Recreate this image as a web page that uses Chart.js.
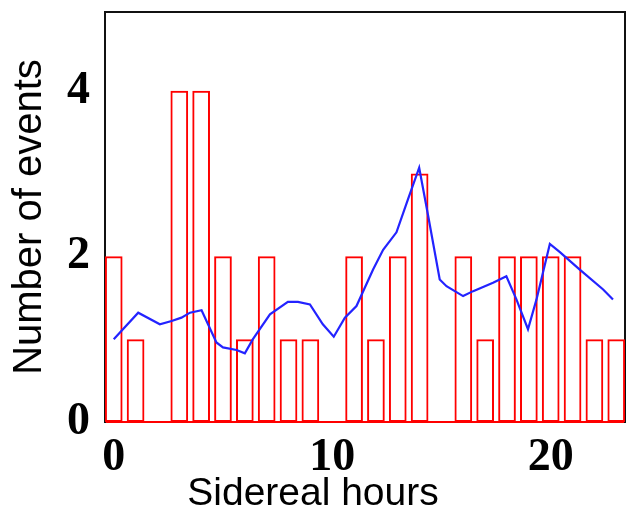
<!DOCTYPE html>
<html lang="en">
<head>
    <meta charset="UTF-8">
    <title>Sidereal hours histogram</title>
    <script src="https://cdn.jsdelivr.net/npm/chart.js"></script>
    <style>
        body {
            margin: 0;
            padding: 0;
            background-color: #ffffff;
        }
        #chartBox {
            width: 626px;
            height: 518px;
        }
    </style>
</head>
<body>
    <div id="chartBox">
        <canvas id="siderealChart" width="626" height="518"></canvas>
    </div>

    <script>
        // Histogram: events per sidereal hour bin
        const hours = [0, 1, 2, 3, 4, 5, 6, 7, 8, 9, 10, 11, 12, 13, 14, 15, 16, 17, 18, 19, 20, 21, 22, 23];
        const eventCounts = [2, 1, 0, 4, 4, 2, 1, 2, 1, 1, 0, 2, 1, 2, 3, 0, 2, 1, 2, 2, 2, 2, 1, 1];

        // Smooth blue curve
        const curveHours = [0.0, 1.12, 2.11, 2.65, 3.1, 3.49, 4.02, 4.7, 5.0, 5.62, 6.0, 6.37, 7.15, 7.97,
            8.43, 8.98, 9.57, 10.07, 10.58, 11.11, 11.87, 12.33, 12.94, 13.47, 13.98, 14.39, 14.92, 15.23,
            15.99, 16.45, 17.36, 17.97, 18.43, 18.96, 19.35, 19.96, 20.42, 21.33, 22.4, 22.85];
        const curveEvents = [1.0, 1.32, 1.18, 1.22, 1.26, 1.32, 1.35, 0.96, 0.9, 0.87, 0.83, 1.0, 1.30, 1.45,
            1.45, 1.42, 1.18, 1.03, 1.26, 1.40, 1.84, 2.08, 2.29, 2.69, 3.07, 2.49, 1.72, 1.64,
            1.52, 1.58, 1.68, 1.76, 1.48, 1.12, 1.48, 2.15, 2.05, 1.84, 1.6, 1.48];

        const xTickValues = [0, 10, 20];
        const yTickValues = [0, 2, 4];

        const xMin = -0.4, xMax = 23.4;
        const yMin = 0, yMax = 4.95;

        const tickFont = { family: "'Liberation Serif', 'Times New Roman', serif", size: 46, weight: 'bold' };
        const titleFamily = "'Liberation Sans', Arial, sans-serif";

        // no label overflow padding, the frame sits where the picture has it
        function noPadding(scale) {
            scale.paddingTop = 0;
            scale.paddingBottom = 0;
            scale.paddingLeft = 0;
            scale.paddingRight = 0;
        }

        const ctx = document.getElementById('siderealChart').getContext('2d');
        const siderealChart = new Chart(ctx, {
            type: 'line',
            data: {
                datasets: [
                    {
                        type: 'line',
                        label: 'Fit',
                        data: curveHours.map((h, i) => ({ x: h, y: curveEvents[i] })),
                        borderColor: 'rgb(35, 35, 255)',
                        borderWidth: 2.2,
                        pointRadius: 0,
                        tension: 0,
                        fill: false,
                        order: 0
                    },
                    {
                        type: 'bar',
                        label: 'Events',
                        data: hours.map((h, i) => ({ x: h, y: eventCounts[i] })),
                        backgroundColor: 'rgba(0, 0, 0, 0)',
                        borderColor: 'rgb(255, 0, 0)',
                        borderWidth: 2,
                        borderSkipped: false,
                        barPercentage: 0.81,
                        categoryPercentage: 1.0,
                        order: 1
                    }
                ]
            },
            options: {
                responsive: false,
                animation: false,
                events: [],
                layout: { padding: 0 },
                plugins: {
                    legend: { display: false },
                    tooltip: { enabled: false },
                    title: {
                        display: true,
                        text: 'Sidereal hours',
                        position: 'bottom',
                        color: '#000',
                        font: { family: titleFamily, size: 39, weight: 'normal', lineHeight: 1 },
                        padding: { top: 0, bottom: 4 }
                    }
                },
                scales: {
                    x: {
                        type: 'linear',
                        position: 'bottom',
                        min: xMin,
                        max: xMax,
                        offset: false,
                        grid: { display: false, offset: false, drawTicks: false },
                        border: { display: true, color: 'rgb(255, 0, 0)', width: 2 },
                        ticks: { color: '#000', padding: 9, font: tickFont, maxRotation: 0 },
                        afterBuildTicks: (scale) => { scale.ticks = xTickValues.map(v => ({ value: v })); },
                        afterFit: (scale) => { scale.height = 53; noPadding(scale); }
                    },
                    xTop: {
                        type: 'linear',
                        position: 'top',
                        min: xMin,
                        max: xMax,
                        grid: { display: false, drawTicks: false },
                        border: { display: true, color: '#111', width: 2 },
                        ticks: { display: false },
                        afterFit: (scale) => { scale.height = 12; noPadding(scale); }
                    },
                    y: {
                        type: 'linear',
                        position: 'left',
                        min: yMin,
                        max: yMax,
                        grid: { display: false, drawTicks: false },
                        border: { display: true, color: '#111', width: 2 },
                        ticks: { color: '#000', padding: 15, font: tickFont },
                        afterBuildTicks: (scale) => { scale.ticks = yTickValues.map(v => ({ value: v })); },
                        afterFit: (scale) => { scale.width = 105; noPadding(scale); },
                        title: {
                            display: true,
                            text: 'Number of events',
                            color: '#000',
                            font: { family: titleFamily, size: 40, lineHeight: 1 },
                            padding: { top: 10, bottom: 0 }
                        }
                    },
                    yRight: {
                        type: 'linear',
                        position: 'right',
                        min: yMin,
                        max: yMax,
                        grid: { display: false, drawTicks: false },
                        border: { display: true, color: '#111', width: 2 },
                        ticks: { display: false },
                        afterFit: (scale) => { scale.width = 1; noPadding(scale); }
                    }
                }
            }
        });
    </script>
</body>
</html>
